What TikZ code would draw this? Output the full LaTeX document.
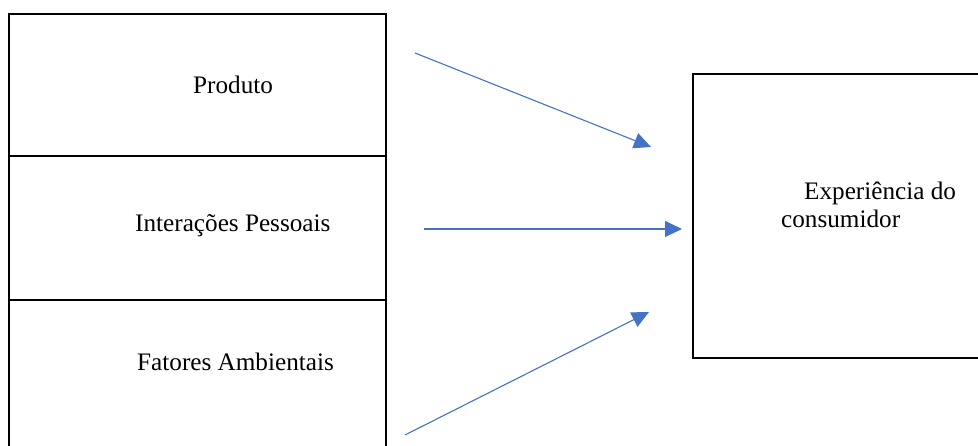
\documentclass[tikz,border=0pt]{standalone}
\usepackage{fontspec}
\setmainfont{Liberation Serif}
\usetikzlibrary{arrows.meta}
\definecolor{arrblue}{HTML}{4472C4}
\tikzset{
  boxline/.style={draw=black, line width=2pt},
  lbl/.style={anchor=base west, inner sep=0pt, font=\fontsize{25.2}{28}\selectfont},
  flow/.style={draw=arrblue, line width=1.1pt, -{Triangle[length=17pt,width=16pt]}}
}
\begin{document}
\begin{tikzpicture}[x=1pt,y=-1pt]
\useasboundingbox (0,0) rectangle (978,446);
% left stacked boxes
\draw[boxline] (9,14) rectangle (386,156);
\draw[boxline] (9,156) rectangle (386,300);
\draw[boxline] (9,460) -- (9,300) -- (386,300) -- (386,460);
% right box
\draw[boxline] (990,74) -- (693,74) -- (693,358) -- (990,358);
% labels
\node[lbl] (prod) at (193,94) {Produto};
\node[lbl] (inter) at (135,232) {Interações Pessoais};
\node[lbl] (fat) at (137,371) {Fatores Ambientais};
\node[lbl] (exp1) at (804,200) {Experiência do};
\node[lbl] (exp2) at (781,228) {consumidor};
% arrow endpoints
\coordinate (a1s) at (415,53);
\coordinate (a1e) at (651,147);
\coordinate (a2s) at (424,229);
\coordinate (a2e) at (682,229);
\coordinate (a3s) at (405,435);
\coordinate (a3e) at (649,312);
\draw[flow] (a1s) -- (a1e);
\draw[flow] (a2s) -- (a2e);
\draw[flow] (a3s) -- (a3e);
\end{tikzpicture}
\end{document}
